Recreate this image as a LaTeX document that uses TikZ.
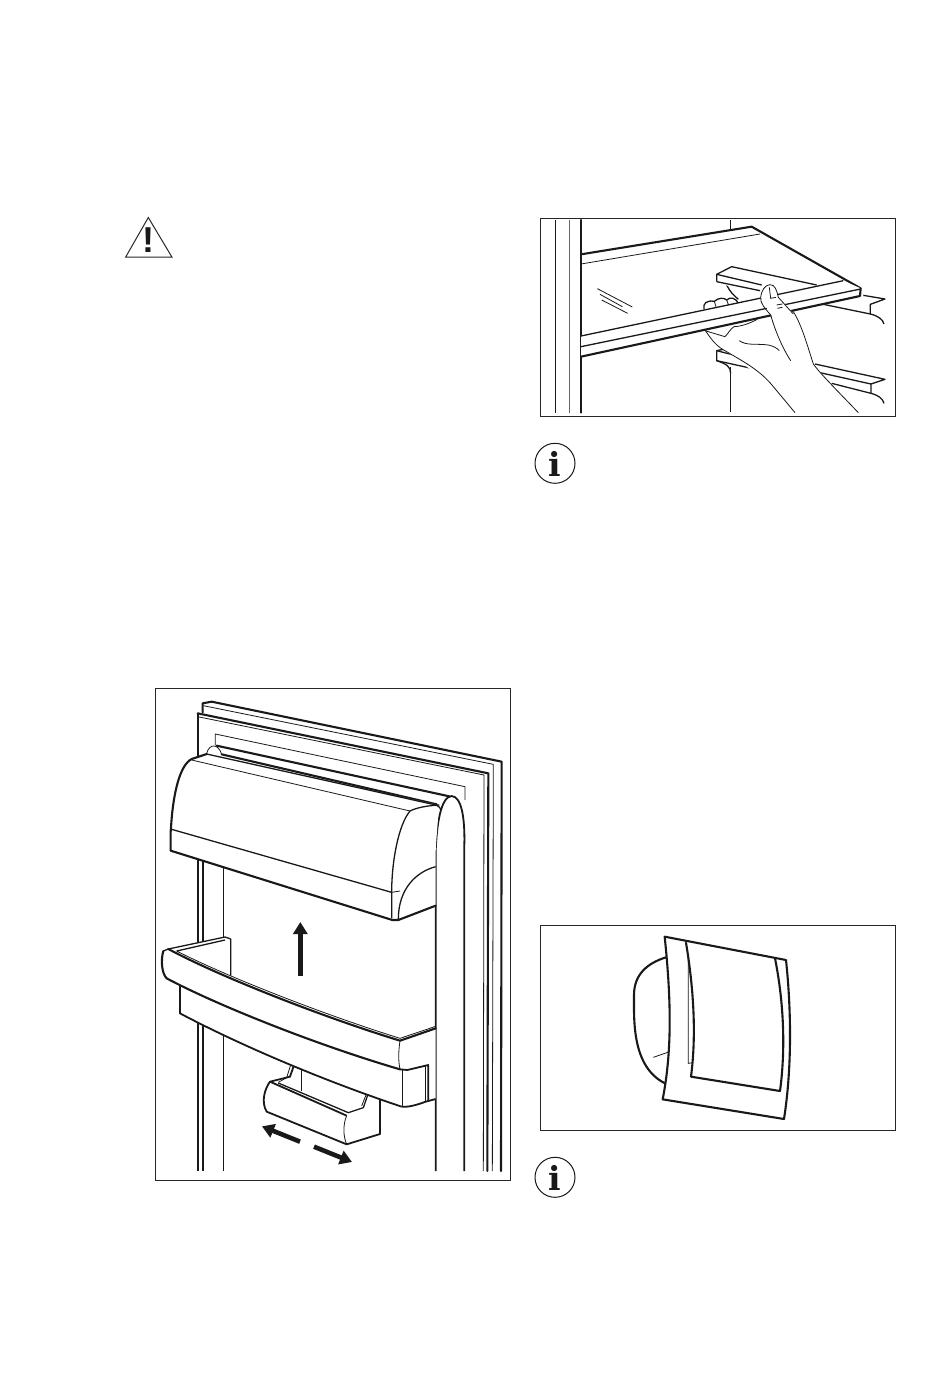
\documentclass[tikz,border=0pt]{standalone}
\usepackage{fontspec}
\usetikzlibrary{arrows.meta}
\newfontfamily\iconsans{Liberation Sans}
\newfontfamily\iconserif{DejaVu Serif}
\tikzset{
  frameline/.style={draw=black!85,line width=1pt},
  thin line/.style={draw=black!90,line width=.8pt},
  med line/.style={draw=black!90,line width=1.3pt,line join=round},
  strong line/.style={draw=black!90,line width=1.8pt,line join=round},
  heavy line/.style={draw=black!90,line width=2.1pt,line join=round,line cap=round},
  bigarrow/.style={draw=black!90,line width=4.6pt,-{Triangle[length=12pt,width=14pt]}},
  infoicon/.style={circle,draw=black!90,line width=1pt,minimum size=40pt,inner sep=0pt,fill=white},
  infoletter/.style={font=\iconserif\bfseries\fontsize{33}{33}\selectfont,inner sep=0pt,text=black!90},
  zoomed/.style={x=.33333pt,y=-.33333pt}
}
\begin{document}
\begin{tikzpicture}[x=1pt,y=-1pt]
\useasboundingbox (0,0) rectangle (950,1374);
\fill[white] (0,0) rectangle (950,1374);

% warning triangle
\draw[line width=1pt,line join=miter,draw=black!85] (148.3,217.5) -- (125.7,257) -- (171.9,257) -- cycle;
\node[font=\iconsans\bfseries\fontsize{36}{36}\selectfont,inner sep=0pt,text=black!90] (warnmark) at (148.3,240.5) {!};

% frames
\draw[frameline] (540.3,218.3) rectangle (895.7,416.3);
\draw[frameline] (155.3,688.7) rectangle (510.7,1180.7);
\draw[frameline] (540.3,925.3) rectangle (895.7,1130.3);

% info icons
\node[infoicon] (infoA) at (555,463.3) {};
\node[infoletter] (infoAi) at (555,463.5) {i};
\node[infoicon] (infoB) at (555,1177.3) {};
\node[infoletter] (infoBi) at (555,1177.5) {i};

% ===== shelf panel =====
\begin{scope}[xshift=530pt,yshift=-210pt,zoomed]
\draw[thin line] (76,30) -- (76,610);
\draw[draw=black!60,line width=1.4pt] (119,30) -- (119,610);
\draw[heavy line] (153,30) -- (153,608);
\draw[thin line] (602,30) -- (602,62);
\draw[thin line] (602,470) -- (602,605);
% upper rail behind
\draw[med line] (590,225) .. controls (600,245) and (610,255) .. (625,268);
\draw[med line] (880,283) -- (1021,312) -- (1021,283) -- (1065,267) -- (1000,256);
\draw[med line] (1021,312) .. controls (1045,318) and (1058,328) .. (1062,342);
% lower rail
\draw[med line] (580,418) -- (560,422) -- (560,452) -- (660,474);
\draw[med line] (560,422) -- (650,445);
\draw[med line] (560,452) .. controls (590,462) and (602,470) .. (602,490);
\draw[med line] (855,462) -- (1065,508) -- (1023,522) -- (1023,550);
\draw[med line] (870,488) -- (1023,522);
\draw[med line] (905,520) -- (1023,550);
\draw[med line] (1023,550) .. controls (1045,556) and (1058,565) .. (1062,580);
% shelf back
\draw[heavy line] (153,133) -- (665,50) -- (992,235);
\draw[thin line] (153,162) -- (690,72);
\draw[thin line] (202,236) -- (307,291);
\draw[thin line] (210,253) -- (277,290);
\draw[thin line] (215,270) -- (293,310);
% rail on shelf
\path[fill=white] (560,193) -- (605,170) -- (860,225) -- (700,262) -- (640,245) -- (560,215) -- cycle;
\draw[med line] (560,215) -- (560,193) -- (605,170) -- (860,225);
\draw[med line] (560,193) -- (695,225);
\draw[med line] (560,215) -- (690,242);
% hand, behind the shelf edge
\path[fill=white] (525,360) -- (650,335) -- (790,310) -- (815,350) -- (850,462) -- (900,520) -- (985,608) -- (795,608) -- (720,520) -- (650,470) -- (570,410) -- cycle;
\path[fill=white] (520,292) .. controls (520,275) and (545,268) .. (555,272) .. controls (570,262) and (585,262) .. (592,266) .. controls (605,258) and (620,265) .. (625,280) -- (560,310) -- cycle;
\draw[med line] (522,298) .. controls (518,280) and (530,270) .. (553,274) .. controls (565,263) and (582,262) .. (590,270) .. controls (600,260) and (618,262) .. (625,282);
\draw[thin line] (553,274) -- (558,290);
\draw[thin line] (590,270) -- (596,286);
\draw[thin line] (525,360) .. controls (545,390) and (560,410) .. (590,425) .. controls (640,455) and (690,480) .. (730,530) -- (795,608);
\draw[thin line] (790,305) .. controls (815,345) and (830,400) .. (850,462) .. controls (870,490) and (920,540) .. (985,608);
\draw[thin line] (525,362) -- (585,380) .. controls (595,370) and (600,358) .. (612,350) .. controls (625,350) and (650,345) .. (682,328);
\draw[thin line] (628,392) .. controls (650,408) and (680,400) .. (715,405) .. controls (730,408) and (742,415) .. (748,422);
% shelf front band
\path[fill=white] (153,378) -- (940,212) -- (992,235) -- (990,258) -- (153,440) -- cycle;
\draw[med line] (153,378) -- (940,212);
\draw[med line] (153,410) -- (992,237);
\draw[heavy line] (992,235) -- (990,258) -- (153,440);
% thumb
\path[fill=white] (692,262) .. controls (695,240) and (705,225) .. (720,224) .. controls (735,224) and (740,240) .. (745,262) -- (790,310) -- (760,340) -- (722,315) -- cycle;
\draw[thin line] (722,315) .. controls (705,295) and (690,280) .. (692,262) .. controls (695,240) and (705,225) .. (720,224) .. controls (735,224) and (740,240) .. (745,262) -- (790,312);
\draw[thin line] (722,315) .. controls (735,360) and (755,410) .. (782,452);
\draw[thin line] (718,232) -- (722,265) -- (738,262);
\draw[thin line] (740,285) -- (757,282);
\draw[thin line] (742,295) -- (757,292);
\end{scope}

% ===== door panel, upper =====
\begin{scope}[xshift=150pt,yshift=-685pt,zoomed]
\draw[heavy line] (158,82) -- (158,55) -- (185,50) -- (1055,230) -- (1053,1458);
\draw[thin line] (160,62) -- (1030,238) -- (1027,1458);
\draw[heavy line] (143,85) -- (1015,265) -- (1012,1458);
\draw[thin line] (143,95) -- (1002,270) -- (1000,1458);
\draw[strong line] (143,85) -- (143,1458);
\draw[strong line] (159,520) -- (159,1458);
\draw[thin line] (220,540) -- (220,1458);
\draw[thin line] (196,180) -- (196,147) -- (945,305) -- (945,345);
% pillar
\path[fill=white] (857,1458) -- (857,500) .. controls (860,420) and (872,335) .. (905,333) .. controls (935,335) and (945,400) .. (943,480) -- (943,1458) -- cycle;
\draw[strong line] (857,1458) -- (857,500) .. controls (860,420) and (872,335) .. (905,333) .. controls (935,335) and (945,400) .. (943,480) -- (943,1458);
% top bars
\draw[thin line] (170,205) .. controls (178,175) and (205,175) .. (215,208);
\draw[heavy line] (200,182) -- (898,334);
\draw[heavy line] (215,208) -- (860,358);
% bin
\path[fill=white] (62,497) -- (65,400) .. controls (72,320) and (90,240) .. (125,222) -- (170,207) -- (855,358) .. controls (872,365) and (862,400) .. (857,500) -- (857,662) -- (745,705) -- (725,705) -- cycle;
\draw[heavy line] (857,662) -- (745,705) -- (727,705) -- (62,497) -- (62,440) -- (65,400) .. controls (72,320) and (90,240) .. (125,222) -- (170,207);
\draw[med line] (170,207) -- (858,360) .. controls (866,364) and (872,368) .. (873,375);
\draw[thin line] (125,225) -- (780,378);
\draw[med line] (65,433) -- (725,622);
\draw[med line] (868,360) .. controls (830,362) and (800,368) .. (780,378) .. controls (745,420) and (725,530) .. (725,622) -- (725,700);
\draw[thin line] (725,622) -- (750,618);
\draw[med line] (857,545) .. controls (800,560) and (745,610) .. (745,703);
\end{scope}

% ===== door panel, lower =====
\begin{scope}[xshift=150pt,yshift=-925pt,zoomed]
% small bin, behind the shelf
\path[fill=white] (425,410) -- (690,518) -- (690,627) -- (590,658) -- (350,560) .. controls (335,530) and (345,490) .. (360,470) -- (410,458) -- cycle;
\draw[strong line] (435,412) -- (420,455) -- (360,470) .. controls (345,490) and (332,530) .. (350,560) -- (590,658) -- (690,627) -- (690,518);
\draw[thin line] (425,410) -- (410,458) -- (385,472);
\draw[thin line] (455,425) -- (455,497);
\draw[strong line] (360,470) -- (590,572);
\draw[med line] (385,474) -- (595,563) -- (640,548) -- (655,505);
\draw[thin line] (650,505) -- (635,543);
\draw[thin line] (590,572) .. controls (578,600) and (580,635) .. (590,658);
% shelf
\path[fill=white] (90,180) -- (90,265) .. controls (250,350) and (500,460) .. (755,545) .. controls (775,545) and (800,538) .. (827,530) -- (857,522) -- (857,310) -- (750,345) -- (242,150) -- (242,42) -- (225,36) -- (55,72) .. controls (40,75) and (35,120) .. (50,160) -- cycle;
\draw[med line] (55,72) -- (225,36) -- (242,42) -- (242,152);
\draw[med line] (80,78) -- (225,45);
\draw[med line] (40,78) -- (55,72);
\draw[heavy line] (55,72) .. controls (200,150) and (500,270) .. (750,347) -- (857,310);
\draw[thin line] (80,78) .. controls (220,150) and (510,265) .. (750,340) -- (857,304);
\draw[heavy line] (40,78) .. controls (32,105) and (35,145) .. (50,160) .. controls (200,240) and (500,360) .. (750,433);
\draw[thin line] (750,347) .. controls (745,380) and (745,410) .. (750,433);
\draw[strong line] (90,180) -- (90,265) .. controls (250,350) and (500,460) .. (755,545);
\draw[med line] (757,435) -- (757,545);
\draw[strong line] (750,433) -- (772,435) -- (835,420) -- (835,530);
\draw[thin line] (827,424) -- (827,530);
\draw[strong line] (755,545) .. controls (775,547) and (800,540) .. (827,530) -- (857,522);
% arrows
\coordinate (upTail) at (451,153);
\coordinate (upTip) at (451,-9);
\draw[bigarrow] (upTail) -- (upTip);
\coordinate (leftTail) at (450,650);
\coordinate (leftTip) at (336,604);
\draw[bigarrow] (leftTail) -- (leftTip);
\coordinate (rightTail) at (492,665);
\coordinate (rightTip) at (606,711);
\draw[bigarrow] (rightTail) -- (rightTip);
\end{scope}

% ===== handle panel =====
\begin{scope}[xshift=530pt,yshift=-920pt,zoomed]
\draw[heavy line] (408,112) .. controls (350,130) and (312,165) .. (312,225) .. controls (312,300) and (305,440) .. (405,490);
\draw[thin line] (370,412) -- (416,396);
\path[fill=white] (404,50) -- (768,120) .. controls (785,280) and (785,450) .. (762,597) -- (398,538) .. controls (425,400) and (425,250) .. (404,50);
\draw[heavy line] (404,50) -- (768,120) .. controls (785,280) and (785,450) .. (762,597) -- (398,538) .. controls (425,400) and (425,250) .. (404,50);
\draw[heavy line] (468,68) .. controls (490,200) and (500,340) .. (483,470) -- (750,513) .. controls (768,380) and (760,240) .. (735,115);
\draw[thin line] (475,110) -- (475,430) -- (488,428);
\end{scope}
\end{tikzpicture}
\end{document}
